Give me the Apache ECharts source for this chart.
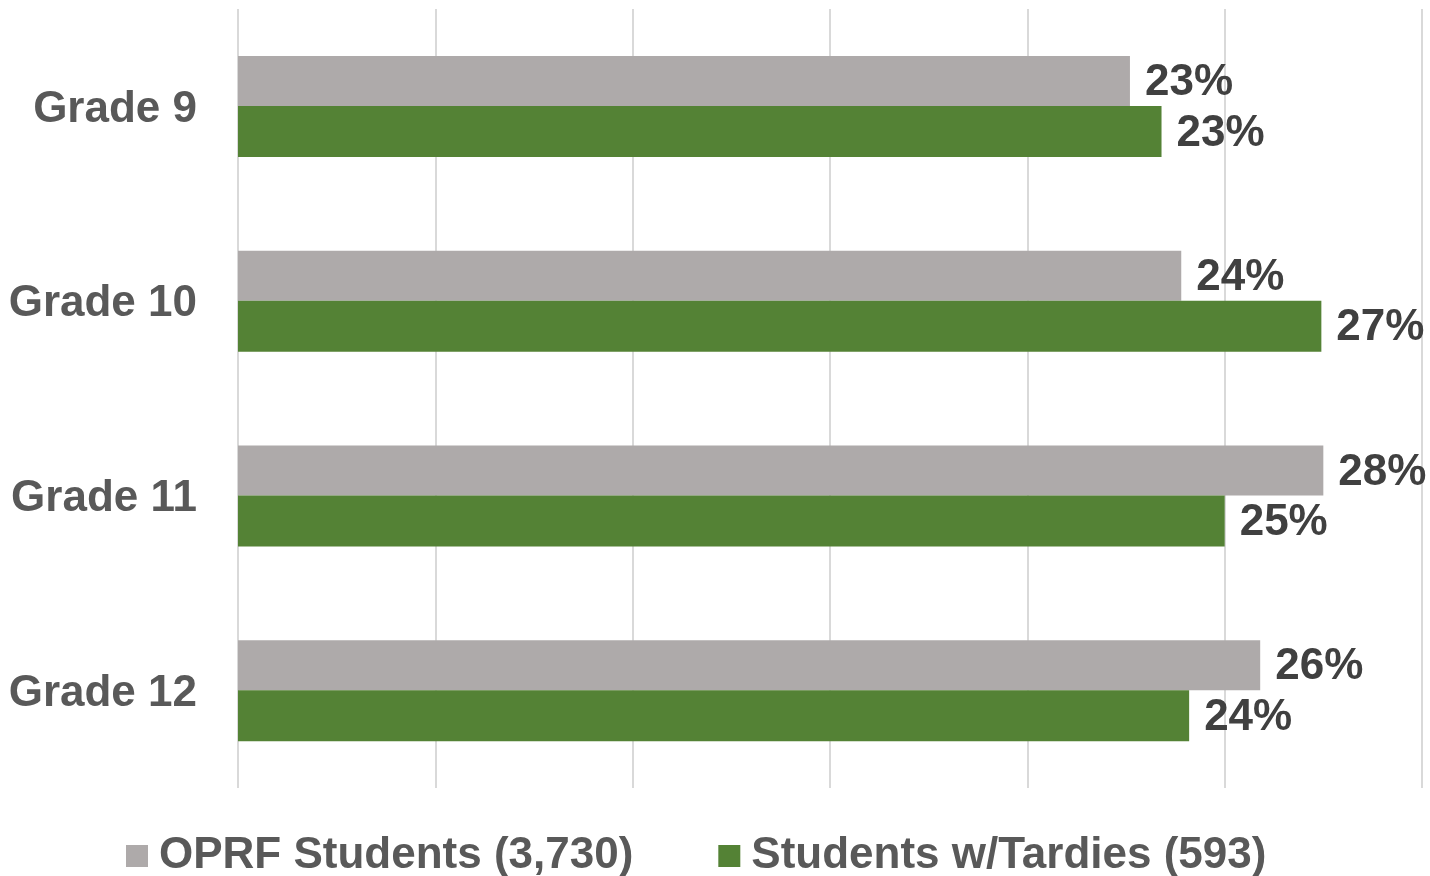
<!DOCTYPE html>
<html>
<head>
<meta charset="utf-8">
<script src="https://cdn.jsdelivr.net/npm/echarts@6/dist/echarts.min.js"></script>
<style>html,body{margin:0;padding:0;background:#fff;}#c{width:1430px;height:876px;}</style>
</head>
<body>
<div id="c"></div>
<script>
const categories = ['Grade 9', 'Grade 10', 'Grade 11', 'Grade 12'];
const seriesNames = ['OPRF Students (3,730)', 'Students w/Tardies (593)'];
const oprfValues = [22.6, 23.9, 27.5, 25.9];
const tardyValues = [23.4, 27.45, 25.0, 24.1];
const xMin = 0, xMax = 30, xInterval = 5;

const FONT = '"Liberation Sans", Arial, sans-serif';
const chart = echarts.init(document.getElementById('c'), null, {renderer: 'canvas'});
const labelCfg = {
  show: true, position: 'right', distance: 15, offset: [0, 2],
  fontFamily: FONT, fontSize: 44, fontWeight: 'bold', color: '#404040',
  formatter: p => Math.round(p.value) + '%'
};
chart.setOption({
  animation: false,
  grid: {left: 238, right: 8, top: 9, bottom: 88, containLabel: false},
  xAxis: {
    type: 'value', min: xMin, max: xMax, interval: xInterval,
    axisLabel: {show: false}, axisLine: {show: false}, axisTick: {show: false},
    splitLine: {show: true, lineStyle: {color: '#d9d9d9', width: 2}}
  },
  yAxis: {
    type: 'category', data: categories, inverse: true,
    axisLine: {show: false}, axisTick: {show: false},
    axisLabel: {
      margin: 41,
      formatter: v => '{c|' + v + '}',
      rich: {c: {fontFamily: FONT, fontSize: 44, fontWeight: 'bold', color: '#595959', padding: [6, 0, 0, 0]}}
    }
  },
  legend: {
    left: 121, top: 829, itemWidth: 22, itemHeight: 22, itemGap: 85,
    icon: 'rect',
    textStyle: {fontFamily: FONT, fontSize: 44, fontWeight: 'bold', color: '#595959', padding: [0, 0, 0, 6]},
    data: seriesNames
  },
  series: [
    {name: seriesNames[0], type: 'bar', data: oprfValues, barWidth: 50, barGap: '0%',
     itemStyle: {color: '#AEAAAA'}, label: labelCfg},
    {name: seriesNames[1], type: 'bar', data: tardyValues, barWidth: 51, barGap: '0%',
     itemStyle: {color: '#548235'}, label: labelCfg}
  ]
});
</script>
</body>
</html>
